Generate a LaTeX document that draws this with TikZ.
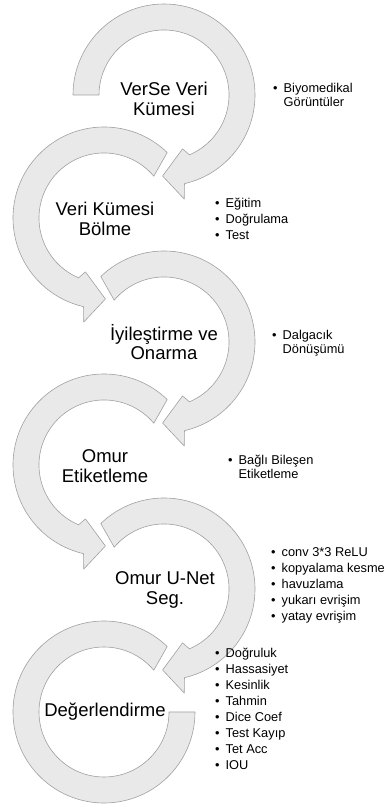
\documentclass[tikz,border=0pt]{standalone}
\usepackage{fontspec}
\setmainfont{Liberation Sans}
\usetikzlibrary{positioning}

\definecolor{bandfill}{HTML}{E9E9E9}
\definecolor{bandline}{HTML}{A0A0A0}

\def\Ro{91} % outer radius
\def\Ri{65} % inner radius

% circular band ending in an arrow head (clockwise)
\newcommand\DrawArrowBand[2]{%
  % #1: start angle outer, #2: start angle inner
  \draw[band] (#1:\Ro) arc (#1:-77:\Ro) -- (-79:106) -- (-91:81)
    -- (-71:57) -- (-67:\Ri) arc (-67:#2:\Ri) -- cycle;
}

% bullet list, one item per row
\newcommand\BulletList[1]{%
  \begin{tabular}[t]{@{}l@{\hspace{6pt}}l@{}}#1\end{tabular}}

\tikzset{%
  band/.style={fill=bandfill,draw=bandline,line width=0.6pt,line join=round},
  stage label/.style={align=center,inner sep=0pt,
    font=\fontsize{18.5}{19.5}\selectfont},
  bullet list/.style={anchor=base west,inner sep=0pt,
    font=\fontsize{12.8}{16}\selectfont}
}

\begin{document}
\begin{tikzpicture}[x=1pt,y=1pt]
\useasboundingbox (0,0) rectangle (390,805);

% bands, top to bottom
\begin{scope}[shift={(164,710)}]
  \DrawArrowBand{180}{180}
\end{scope}
\begin{scope}[shift={(104,587)},xscale=-1]
  \DrawArrowBand{134}{140}
\end{scope}
\begin{scope}[shift={(164,463)}]
  \DrawArrowBand{134}{140}
\end{scope}
\begin{scope}[shift={(104,340)},xscale=-1]
  \DrawArrowBand{134}{140}
\end{scope}
\begin{scope}[shift={(164,216)}]
  \DrawArrowBand{134}{140}
\end{scope}
\begin{scope}[shift={(104,93)}]
  \draw[band] (46:\Ro) arc (46:360:\Ro) -- (0:\Ri) arc (360:40:\Ri) -- cycle;
\end{scope}

% stage names
\node[stage label] (verse) at (164,706) {VerSe Veri\\Kümesi};
\node[stage label] (bolme) at (105,586) {Veri Kümesi\\Bölme};
\node[stage label] (iyiles) at (164,463) {İyileştirme ve\\Onarma};
\node[stage label] (etiket) at (105,339) {Omur\\Etiketleme};
\node[stage label] (unet) at (165,215) {Omur U-Net\\Seg.};
\node[stage label] (degerl) at (105,93) {Değerlendirme};

% details
\node[bullet list] (verseList) at (273,712)
  {\BulletList{\textbullet & Biyomedikal\\[-2.5pt] & Görüntüler}};
\node[bullet list] (bolmeList) at (215,597)
  {\BulletList{\textbullet & Eğitim\\ \textbullet & Doğrulama\\ \textbullet & Test}};
\node[bullet list] (iyilesList) at (272,465)
  {\BulletList{\textbullet & Dalgacık\\[-2.5pt] & Dönüşümü}};
\node[bullet list] (etiketList) at (228,340)
  {\BulletList{\textbullet & Bağlı Bileşen\\[-2.5pt] & Etiketleme}};
\node[bullet list] (unetList) at (271,248)
  {\BulletList{\textbullet & conv 3*3 ReLU\\ \textbullet & kopyalama kesme\\
   \textbullet & havuzlama\\ \textbullet & yukarı evrişim\\ \textbullet & yatay evrişim}};
\node[bullet list] (degerlList) at (215,147)
  {\BulletList{\textbullet & Doğruluk\\ \textbullet & Hassasiyet\\ \textbullet & Kesinlik\\
   \textbullet & Tahmin\\ \textbullet & Dice Coef\\ \textbullet & Test Kayıp\\
   \textbullet & Tet Acc\\ \textbullet & IOU}};
\end{tikzpicture}
\end{document}
